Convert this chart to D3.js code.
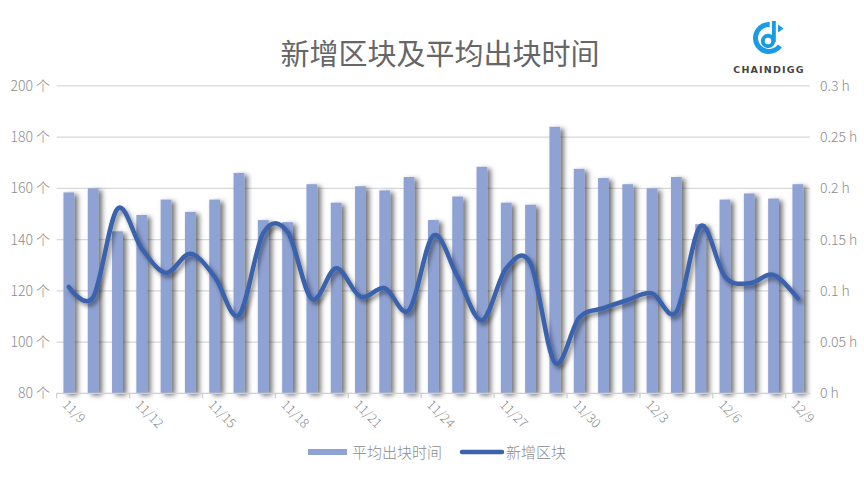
<!DOCTYPE html>
<html><head><meta charset="utf-8">
<script src="https://cdn.jsdelivr.net/npm/d3@7"></script>
<style>
html,body{margin:0;padding:0;background:#fff;}
svg{display:block;font-family:"Noto Sans CJK SC","Noto Sans",sans-serif;}
</style></head>
<body>
<svg id="c" width="864" height="479"></svg>
<script>
const title = "新增区块及平均出块时间";
const categories = ["11/9","11/10","11/11","11/12","11/13","11/14","11/15","11/16","11/17","11/18","11/19","11/20","11/21","11/22","11/23","11/24","11/25","11/26","11/27","11/28","11/29","11/30","12/1","12/2","12/3","12/4","12/5","12/6","12/7","12/8","12/9"];
// 平均出块时间 (h), right axis
const avgTime = [0.196,0.200,0.158,0.174,0.189,0.177,0.189,0.215,0.169,0.167,0.204,0.186,0.202,0.198,0.211,0.169,0.192,0.221,0.186,0.184,0.260,0.219,0.210,0.204,0.200,0.211,0.165,0.189,0.195,0.190,0.204];
// 新增区块 (个), left axis
const newBlocks = [121.5,117.5,152,136.5,127,134.5,125.5,110.5,142.5,143,116.8,128.8,117.7,121,112.5,141.5,125.5,108.5,128.8,130.7,92,109.5,113.2,116.4,119,111.8,145.3,125.5,122.9,126.2,117];
const leftTicks = [80,100,120,140,160,180,200];
const rightTicks = [0,0.05,0.1,0.15,0.2,0.25,0.3];
const seriesNames = ["平均出块时间","新增区块"];

const svg = d3.select("#c");
const L = 56.7, R = 810, T = 85.8, B = 393.3;

const defs = svg.append("defs");
const fb = defs.append("filter").attr("id","barShadow").attr("x","-50%").attr("y","-10%").attr("width","250%").attr("height","130%");
fb.append("feDropShadow").attr("dx",3.5).attr("dy",2).attr("stdDeviation",2.5).attr("flood-color","#000").attr("flood-opacity",0.55);
const fl = defs.append("filter").attr("id","lineShadow").attr("x","-10%").attr("y","-20%").attr("width","120%").attr("height","150%");
fl.append("feDropShadow").attr("dx",2.5).attr("dy",3).attr("stdDeviation",2.2).attr("flood-color","#000").attr("flood-opacity",0.45);

const x = d3.scaleBand().domain(categories).range([L,R]).paddingInner(0).paddingOuter(0);
const yL = d3.scaleLinear().domain([80,200]).range([B,T]);
const yR = d3.scaleLinear().domain([0,0.3]).range([B,T]);

// title
svg.append("text").attr("x",440).attr("y",65).attr("text-anchor","middle")
  .attr("font-size",29).attr("fill","#666").text(title);

// gridlines
svg.append("g").selectAll("line").data(leftTicks.slice(1)).join("line")
  .attr("x1",L).attr("x2",R).attr("y1",d=>yL(d)).attr("y2",d=>yL(d))
  .attr("stroke","#d9d9d9").attr("stroke-width",1.3);

// left axis labels
svg.append("g").selectAll("text").data(leftTicks).join("text")
  .attr("x",50).attr("y",d=>yL(d)+5).attr("text-anchor","end").attr("font-weight",300)
  .attr("font-size",14).attr("fill","#8c8c8c").text(d=>d+" 个");
// right axis labels
const fmtR = d => (d===0?"0":String(+d.toFixed(2)))+" h";
svg.append("g").selectAll("text").data(rightTicks).join("text")
  .attr("x",820).attr("y",d=>yR(d)+5).attr("text-anchor","start").attr("font-weight",300)
  .attr("font-size",14).attr("fill","#8c8c8c").text(fmtR);

// bars
const bw = 10.8;
svg.append("g").attr("filter","url(#barShadow)").selectAll("rect").data(avgTime).join("rect")
  .attr("x",(d,i)=>x(categories[i])+x.bandwidth()/2-bw/2)
  .attr("width",bw)
  .attr("y",d=>yR(d)).attr("height",d=>B-yR(d))
  .attr("fill","#8fa2d4");

// x axis
svg.append("line").attr("x1",L).attr("x2",R).attr("y1",B).attr("y2",B).attr("stroke","#d0d0d0").attr("stroke-width",1.3);
const tickIdx = d3.range(0,31,3);
svg.append("g").selectAll("line").data(tickIdx).join("line")
  .attr("x1",i=>x(categories[i])).attr("x2",i=>x(categories[i]))
  .attr("y1",B).attr("y2",B+5).attr("stroke","#d0d0d0").attr("stroke-width",1.3);
svg.append("g").selectAll("text").data(tickIdx).join("text")
  .attr("transform",i=>`translate(${x(categories[i])+x.bandwidth()/2-4},${B+9}) rotate(45)`)
  .attr("font-size",13).attr("font-weight",300).attr("fill","#8c8c8c").attr("dy","0.35em").text(i=>categories[i]);

// line
const line = d3.line().x((d,i)=>x(categories[i])+x.bandwidth()/2).y(d=>yL(d)).curve(d3.curveCatmullRom.alpha(0));
svg.append("path").datum(newBlocks).attr("d",line).attr("fill","none")
  .attr("stroke","#3a62ad").attr("stroke-width",4.5).attr("stroke-linecap","round").attr("stroke-linejoin","round")
  .attr("filter","url(#lineShadow)");

// legend
const lg = svg.append("g").attr("font-size",15).attr("fill","#8c8c8c").attr("font-weight",300);
lg.append("rect").attr("x",308).attr("y",449).attr("width",39).attr("height",6).attr("fill","#8fa2d4");
lg.append("text").attr("x",352).attr("y",457.5).text(seriesNames[0]);
lg.append("line").attr("x1",462).attr("x2",502).attr("y1",452).attr("y2",452).attr("stroke","#3a62ad").attr("stroke-width",4.5).attr("stroke-linecap","round");
lg.append("text").attr("x",506).attr("y",457.5).text(seriesNames[1]);

// logo
const logo = svg.append("g");
const arcC = d3.arc().innerRadius(11).outerRadius(16).startAngle(0.05).endAngle(-2*Math.PI+2.2);
logo.append("path").attr("d",arcC()).attr("transform","translate(769,38)").attr("fill","#1a9be6");
const arcD = d3.arc().innerRadius(3.2).outerRadius(7.2).startAngle(0).endAngle(2*Math.PI);
logo.append("path").attr("d",arcD()).attr("transform","translate(768,41)").attr("fill","#1a9be6");
logo.append("rect").attr("x",772).attr("y",21).attr("width",3.8).attr("height",21).attr("fill","#1a9be6");
logo.append("path").attr("d","M778,24.5 L783.5,28.5 L778,32.5 Z").attr("fill","#1a9be6");
logo.append("text").attr("x",769).attr("y",73).attr("text-anchor","middle").attr("font-family","DejaVu Sans, sans-serif")
  .attr("font-weight","bold").attr("font-size",9.5).attr("letter-spacing",1.2).attr("fill","#444").text("CHAINDIGG");
</script>
</body></html>
